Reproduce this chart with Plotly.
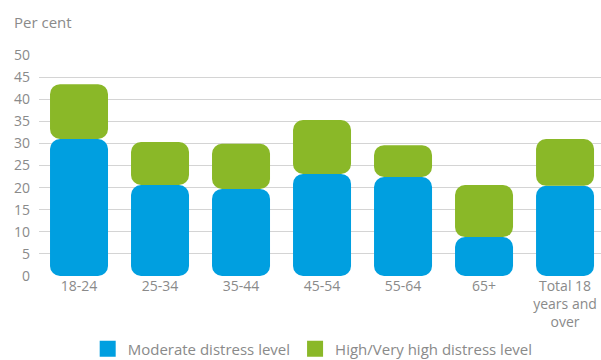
import plotly.graph_objects as go

categories = ["18-24", "25-34", "35-44", "45-54", "55-64", "65+", "Total 18<br>years and<br>over"]
moderate = [31.0, 20.6, 19.7, 23.1, 22.4, 8.8, 20.4]
high = [12.4, 9.7, 10.2, 12.2, 7.2, 11.8, 10.6]
y_ticks = [0, 5, 10, 15, 20, 25, 30, 35, 40, 45, 50]

BLUE = "#009FE0"
GREEN = "#8AB828"
GREY = "#8a8a8a"
FONT = "Open Sans"

fig = go.Figure()
# Moderate: drawn downward from its top so the rounded end is at the base
fig.add_trace(go.Bar(
    x=categories, y=[-v for v in moderate], base=moderate,
    marker=dict(color=BLUE, cornerradius=10, line=dict(width=0)),
    name="Moderate distress level", showlegend=False,
    customdata=moderate, hovertemplate="%{x}: %{customdata}<extra></extra>"))
# High/very high stacked on top of moderate
fig.add_trace(go.Bar(
    x=categories, y=high, base=moderate,
    marker=dict(color=GREEN, cornerradius=10, line=dict(width=0)),
    name="High/Very high distress level", showlegend=False))

# legend entries
fig.add_trace(go.Scatter(x=[None], y=[None], mode="markers", name="Moderate distress level",
                         marker=dict(symbol="square", size=20, color=BLUE)))
fig.add_trace(go.Scatter(x=[None], y=[None], mode="markers", name="High/Very high distress level",
                         marker=dict(symbol="square", size=20, color=GREEN)))

fig.update_layout(
    width=601, height=360,
    margin=dict(l=39, r=0, t=55, b=84, autoexpand=False),
    barmode="overlay", bargap=0.284,
    plot_bgcolor="white", paper_bgcolor="white",
    font=dict(family=FONT, size=14, color=GREY),
    showlegend=True,
    legend=dict(orientation="h", x=0.487, xanchor="center", y=-0.33, yanchor="middle",
                font=dict(size=15, color=GREY), itemwidth=30, tracegroupgap=0),
    xaxis=dict(showgrid=False, showline=False, ticks="", tickfont=dict(size=14, color=GREY),
               categoryorder="array", categoryarray=categories, automargin=False,
               range=[-0.494, 6.444]),
    yaxis=dict(range=[0, 50], tickvals=y_ticks, showgrid=True, gridcolor="#d4d4d4", gridwidth=1,
               zeroline=False, showline=False, ticks="", tickfont=dict(size=14, color=GREY),
               ticklabelstandoff=8, automargin=False),
    annotations=[dict(text="Per cent", xref="paper", yref="paper", x=-0.048, y=1.15,
                      xanchor="left", yanchor="middle", showarrow=False,
                      font=dict(size=15, color=GREY))],
)

fig.write_html("out.html", config={"displayModeBar": False},
               post_script="document.body.style.margin='0';document.body.style.overflow='hidden';")
